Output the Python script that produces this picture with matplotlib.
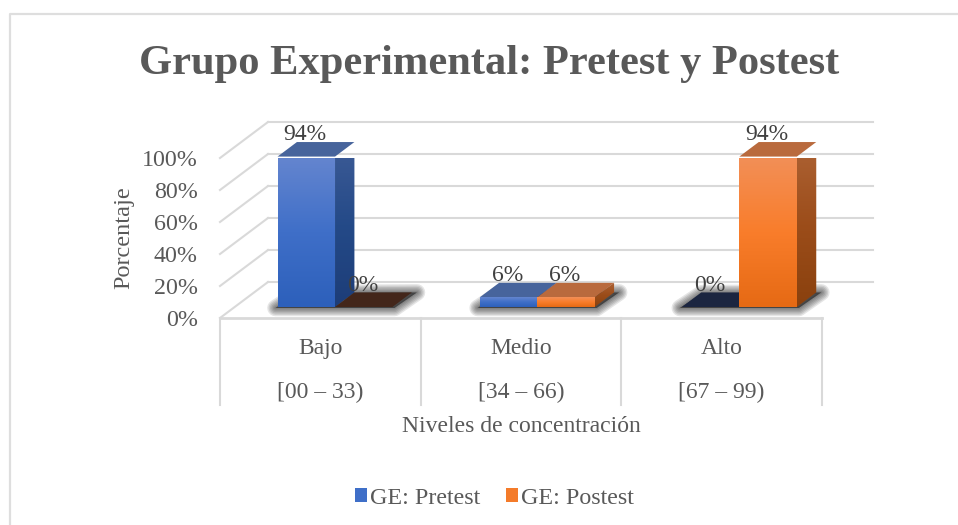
import matplotlib
matplotlib.use("Agg")
import matplotlib.pyplot as plt
import numpy as np
from matplotlib.colors import LinearSegmentedColormap as LSC
from matplotlib.patches import Polygon, Patch
from matplotlib.lines import Line2D

title = "Grupo Experimental: Pretest y Postest"
cat_names = ["Bajo", "Medio", "Alto"]
cat_ranges = ["[00 – 33)", "[34 – 66)", "[67 – 99)"]
pretest = [94, 6, 0]
postest = [0, 6, 94]
y_ticks = [0, 20, 40, 60, 80, 100]
series_names = ["GE: Pretest", "GE: Postest"]

W, H = 958, 525
GRAY = "#595959"
GRID = "#d9d9d9"
FS = 17
plt.rcParams["font.family"] = ["Liberation Serif", "DejaVu Serif"]

fig = plt.figure(figsize=(W / 100, H / 100), dpi=100, facecolor="white")
ax = fig.add_axes([220 / W, 1 - 318 / H, 602 / W, 160 / H])
ax.patch.set_alpha(0)
for s in ax.spines.values():
    s.set_visible(False)

# outer chart frame
fig.add_artist(Line2D([9.5 / W, 9.5 / W, 1], [0, 1 - 14 / H, 1 - 14 / H], color="#dedede", lw=1.6))

PX = 3 / 602            # data units per px horizontally
PY = 100 / 160          # data units per px vertically
DX, DY = 48 * PX, 36 * PY   # depth of the floor
T0, T1 = 0.306, 0.71    # bar depth range
BW = 0.2865
STEP = 1.0075

def proj(x, y, t):
    return (x + DX * t, y + DY * t)

# back wall, side wall, floor
for v in y_ticks:
    ax.plot([DX, 3 + 51 * PX], [v + DY] * 2, color=GRID, lw=1.5, clip_on=False, zorder=1)
    ax.plot([0, DX], [v, v + DY], color=GRID, lw=1.5, clip_on=False, zorder=1)
ax.plot([0, 3], [0, 0], color=GRID, lw=2, clip_on=False, zorder=1)

# multi-level category axis
sep_bottom = -87 * PY
for i in range(4):
    ax.plot([i, i], [0, sep_bottom], color=GRID, lw=1.5, clip_on=False, zorder=1)
for i, (a, b) in enumerate(zip(cat_names, cat_ranges)):
    ax.text(i + 0.5, -30.5 * PY, a, ha="center", va="center", fontsize=FS, color=GRAY)
    ax.text(i + 0.5, -74.5 * PY, b, ha="center", va="center", fontsize=FS, color=GRAY)

def grad_face(pts, colors, z):
    poly = Polygon(pts, closed=True, fc="none", ec="none", transform=ax.transData)
    ax.add_patch(poly)
    xs, ys = zip(*pts)
    cmap = LSC.from_list("g", colors)
    im = ax.imshow(np.linspace(1, 0, 64)[:, None], cmap=cmap, vmin=0, vmax=1, aspect="auto",
                   extent=[min(xs), max(xs), min(ys), max(ys)], zorder=z, clip_on=True)
    im.set_clip_path(poly)

def shadow(x0, x1):
    a = proj(x0 - 0.01, -0.6, T0)
    b = proj(x1 + 0.01, -0.6, T0)
    c = proj(x1 + 0.025, 0, T1)
    d = proj(x0 + 0.01, 0, T1 - 0.02)
    for lw in [12, 10, 8, 6, 4, 2]:
        ax.add_patch(Polygon([a, b, c, d], closed=True, fc="black", ec="black", lw=lw,
                             alpha=0.1, joinstyle="round", clip_on=False, zorder=2))

styles = [
    dict(front=["#2d60bb", "#3f6fc8", "#6485cf"], side=["#1d3d78", "#244a88", "#3d5b96"],
         top="#47649c", zero="#1b2540"),
    dict(front=["#e66a14", "#f97d2b", "#f28f57"], side=["#8a410e", "#9c4d1a", "#ad6234"],
         top="#b96a3d", zero="#43261a"),
]

for i in range(3):
    vals = [pretest[i], postest[i]]
    cx = 0.5 + i * STEP
    shadow(cx - BW, cx + BW)
    for j, v in enumerate(vals):
        x0 = cx - BW + j * BW
        x1 = x0 + BW
        st = styles[j]
        z = 3 + j
        if v == 0:
            ax.add_patch(Polygon([proj(x0, 0, T0), proj(x1, 0, T0), proj(x1, 0, T1), proj(x0, 0, T1)],
                                 closed=True, fc=st["zero"], ec="none", zorder=z, clip_on=False))
        else:
            ax.add_patch(Polygon([proj(x0, v, T0), proj(x1, v, T0), proj(x1, v, T1), proj(x0, v, T1)],
                                 closed=True, fc=st["top"], ec="none", zorder=z, clip_on=False))
            grad_face([proj(x1, 0, T0), proj(x1, 0, T1), proj(x1, v, T1), proj(x1, v, T0)], st["side"], z)
            grad_face([proj(x0, 0, T0), proj(x1, 0, T0), proj(x1, v, T0), proj(x0, v, T0)], st["front"], z + 0.5)
        lx, ly = proj(x0 + BW / 2, v, T0)
        _, by = proj(x0, v, T1)
        ax.text(lx - 1 * PX, by + 4.5, f"{v}%", ha="center", va="center", fontsize=FS, color="#404040", zorder=6)

ax.set_xlim(0, 3)
ax.set_ylim(0, 100)
ax.set_xticks([])
ax.set_yticks(y_ticks)
ax.set_yticklabels([f"{v}%" for v in y_ticks], fontsize=17.3, color=GRAY)
ax.tick_params(axis="y", length=0, pad=16)
for lab in ax.get_yticklabels():
    lab.set_clip_on(False)

fig.text(489 / W, 1 - 64 / H, title, ha="center", va="center", fontsize=30.65, fontweight="bold", color=GRAY)
fig.text(124 / W, 1 - 238 / H, "Porcentaje", rotation=90, ha="center", va="center", fontsize=17.5, color=GRAY)
fig.text(521 / W, 1 - 427 / H, "Niveles de concentración", ha="center", va="center", fontsize=FS, color=GRAY)

handles = [Patch(fc="#3f6fc8", ec="none"), Patch(fc="#f47b2a", ec="none")]
fig.legend(handles, series_names, loc="center", bbox_to_anchor=(494.5 / W, 1 - 498 / H), ncol=2,
           frameon=False, fontsize=17.3, labelcolor=GRAY, handlelength=0.5, handleheight=0.5,
           handletextpad=0.14, columnspacing=1.06, borderpad=0, borderaxespad=0)

fig.savefig("out.png", dpi=100, facecolor="white")
